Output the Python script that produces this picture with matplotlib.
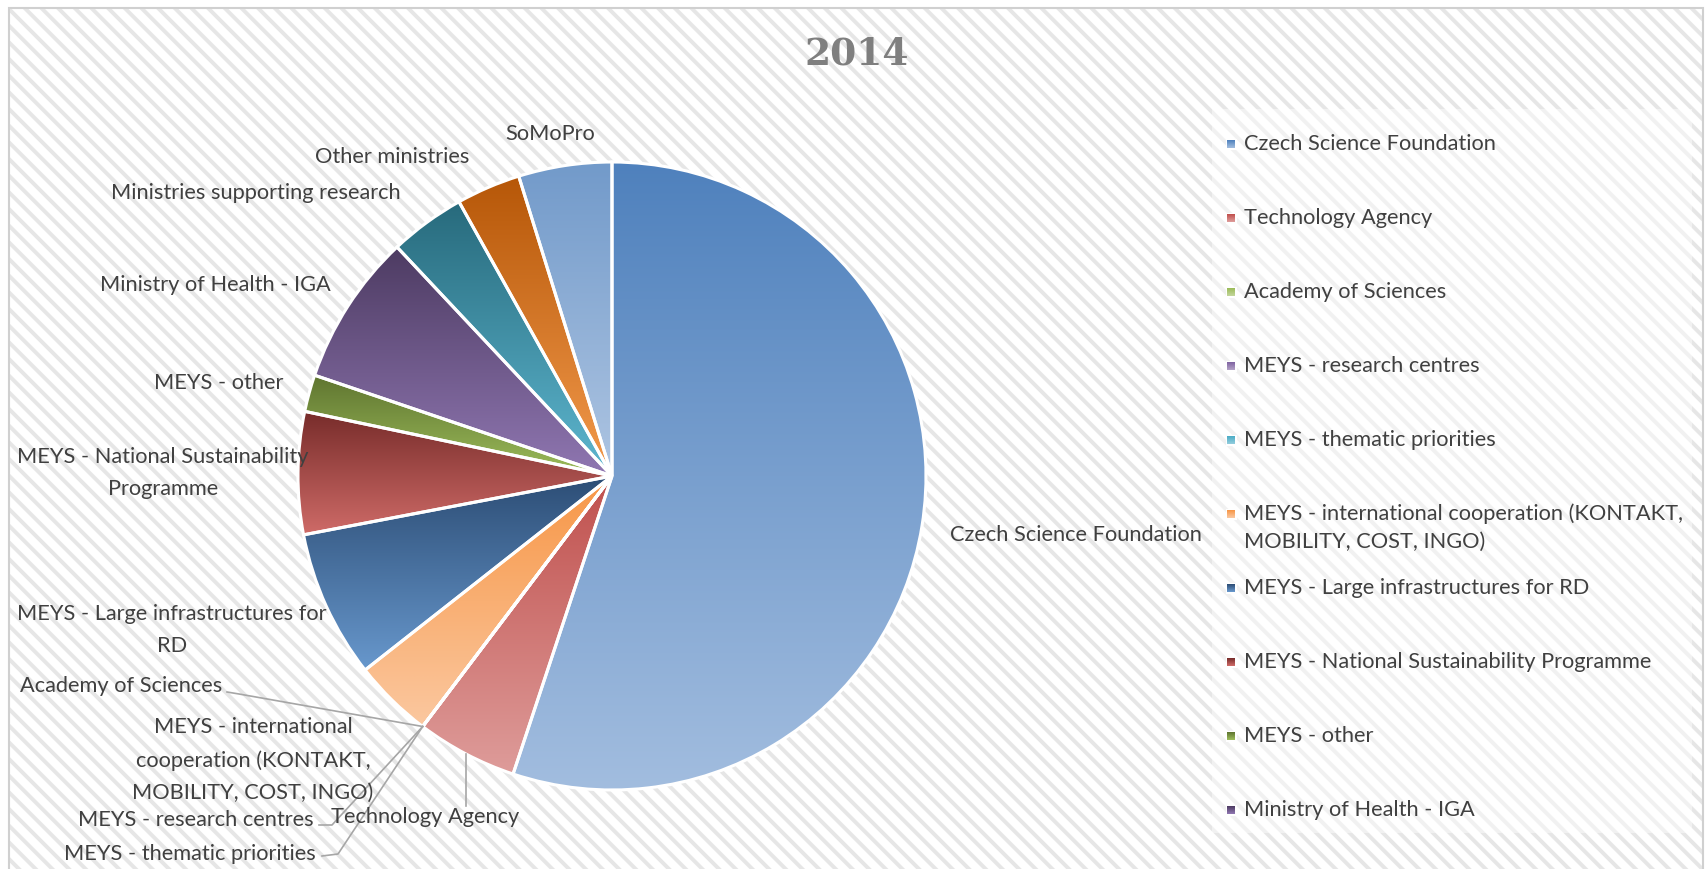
import matplotlib.pyplot as plt
import matplotlib.colors as mcolors
from matplotlib.patches import Rectangle
import numpy as np

# Podíl zdrojů financování, 2014 (v %)
categories = [
    'Czech Science Foundation',
    'Technology Agency',
    'Academy of Sciences',
    'MEYS - research centres',
    'MEYS - thematic priorities',
    'MEYS - international cooperation (KONTAKT, MOBILITY, COST, INGO)',
    'MEYS - Large infrastructures for RD',
    'MEYS - National Sustainability Programme',
    'MEYS - other',
    'Ministry of Health - IGA',
    'Ministries supporting research',
    'Other ministries',
    'SoMoPro',
]
values = [55.1, 5.2, 0, 0, 0, 4.1, 7.6, 6.3, 1.9, 7.8, 3.9, 3.3, 4.8]

top_colors = ['#4F81BD', '#C0504D', '#9BBB59', '#8064A2', '#4BACC6', '#F79646',
              '#2C4D75', '#772C2A', '#5F7530', '#4D3B62', '#276A7C', '#B65708', '#729ACA']
bottom_colors = ['#A2BDDF', '#DE9C9A', '#C3D69B', '#B3A2C7', '#93CDDD', '#FBC8A0',
                 '#6898CD', '#CF6B68', '#9DBD5B', '#9077B2', '#5EB7D0', '#F39A4C', '#AEC5E2']

W, H = 1708, 869
TXT = '#404040'
FS = 15.7
plt.rcParams['font.family'] = ['Lato', 'DejaVu Sans']
plt.rcParams['hatch.color'] = '#e6e6e6'
plt.rcParams['hatch.linewidth'] = 2.8

fig = plt.figure(figsize=(W / 100, H / 100), dpi=100, facecolor='white')
ax = fig.add_axes([0, 0, 1, 1])


def fy(y):
    # pixel desde arriba -> coordenada de datos
    return H - y


# fondo rayado + borde
ax.add_patch(Rectangle((9, -5), 1694, fy(8) + 5, facecolor='white', edgecolor='#e6e6e6',
                       linewidth=0, hatch='\\\\', zorder=0))
ax.add_patch(Rectangle((9, -5), 1694, fy(8) + 5, fill=False, edgecolor='#d0d0d0',
                       linewidth=1.5, zorder=0.5))
# zona de la leyenda
ax.add_patch(Rectangle((1212, fy(833)), 480, 833 - 109, facecolor='white', alpha=0.45,
                       linewidth=0, zorder=0.6))

cx, cy, R = 612, fy(476), 314
wedges, _ = ax.pie(values, center=(cx, cy), radius=R, startangle=90, counterclock=False,
                   wedgeprops=dict(edgecolor='white', linewidth=2.2))


def gradient(top, bot, n=256):
    t = np.linspace(0, 1, n)[:, None, None]
    a = np.array(mcolors.to_rgb(top))[None, None, :]
    b = np.array(mcolors.to_rgb(bot))[None, None, :]
    return a * (1 - t) + b * t


for w, v, ct, cb in zip(wedges, values, top_colors, bottom_colors):
    w.set_facecolor('none')
    w.set_zorder(3)
    if v <= 0:
        continue
    bb = w.get_path().get_extents()
    im = ax.imshow(gradient(ct, cb), extent=(bb.x0, bb.x1, bb.y0, bb.y1), origin='upper',
                   aspect='auto', interpolation='bilinear', zorder=2)
    im.set_clip_path(w)


def rim_point(w):
    a = np.deg2rad((w.theta1 + w.theta2) / 2)
    return cx + R * np.cos(a), cy + R * np.sin(a)


# etiquetas de datos
wrapped = {
    'MEYS - National Sustainability Programme': 'MEYS - National Sustainability\nProgramme',
    'MEYS - Large infrastructures for RD': 'MEYS - Large infrastructures for\nRD',
    'MEYS - international cooperation (KONTAKT, MOBILITY, COST, INGO)':
        'MEYS - international\ncooperation (KONTAKT,\nMOBILITY, COST, INGO)',
}
label_pos = [(950, 535, 'left'), (425, 817, 'center'), (121, 686, 'center'),
             (196, 820, 'center'), (190, 854, 'center'), (253, 760, 'center'),
             (172, 630, 'center'), (163, 473, 'center'), (219, 383, 'center'),
             (215, 285, 'center'), (256, 193, 'center'), (392, 157, 'center'),
             (550, 134, 'center')]
for name, (x, y, ha) in zip(categories, label_pos):
    ax.text(x, fy(y), wrapped.get(name, name), ha=ha, va='center', multialignment='center',
            fontsize=FS, color=TXT, linespacing=1.8, zorder=5)

# líneas guía
lc = '#a6a6a6'
px, py = rim_point(wedges[1])
ax.plot([px, px], [py, fy(806)], color=lc, lw=1.2, zorder=4)
bx, by = rim_point(wedges[2])
for pts in ([(227, 692), (239, 694)], [(319, 825), (332, 825)], [(322, 856), (338, 854)]):
    xs = [p[0] for p in pts] + [bx]
    ys = [fy(p[1]) for p in pts] + [by]
    ax.plot(xs, ys, color=lc, lw=1.2, zorder=4)

# leyenda (solo caben 10 entradas)
legend_wrapped = {
    'MEYS - international cooperation (KONTAKT, MOBILITY, COST, INGO)':
        'MEYS - international cooperation (KONTAKT,\nMOBILITY, COST, INGO)',
}
for i, (name, ct, cb) in enumerate(zip(categories[:10], top_colors, bottom_colors)):
    y = 144 + 74 * i
    ax.add_patch(Rectangle((1226, fy(y) - 5.5), 11, 11, facecolor='white', linewidth=0, zorder=4))
    ax.imshow(gradient(ct, cb, 16), extent=(1227.5, 1235.5, fy(y) - 4, fy(y) + 4),
              origin='upper', aspect='auto', zorder=5)
    for k, line in enumerate(legend_wrapped.get(name, name).split('\n')):
        ax.text(1244, fy(y + 28 * k), line, ha='left', va='center', fontsize=FS, color=TXT,
                zorder=5)

ax.text(857, fy(54), '2014', ha='center', va='center', fontsize=27, fontweight='bold',
        family='DejaVu Serif', color='#7f7f7f', zorder=5)

ax.set_xlim(0, W)
ax.set_ylim(0, H)
ax.set_aspect('auto')
ax.axis('off')

fig.savefig('out.png', dpi=100, facecolor='white')
